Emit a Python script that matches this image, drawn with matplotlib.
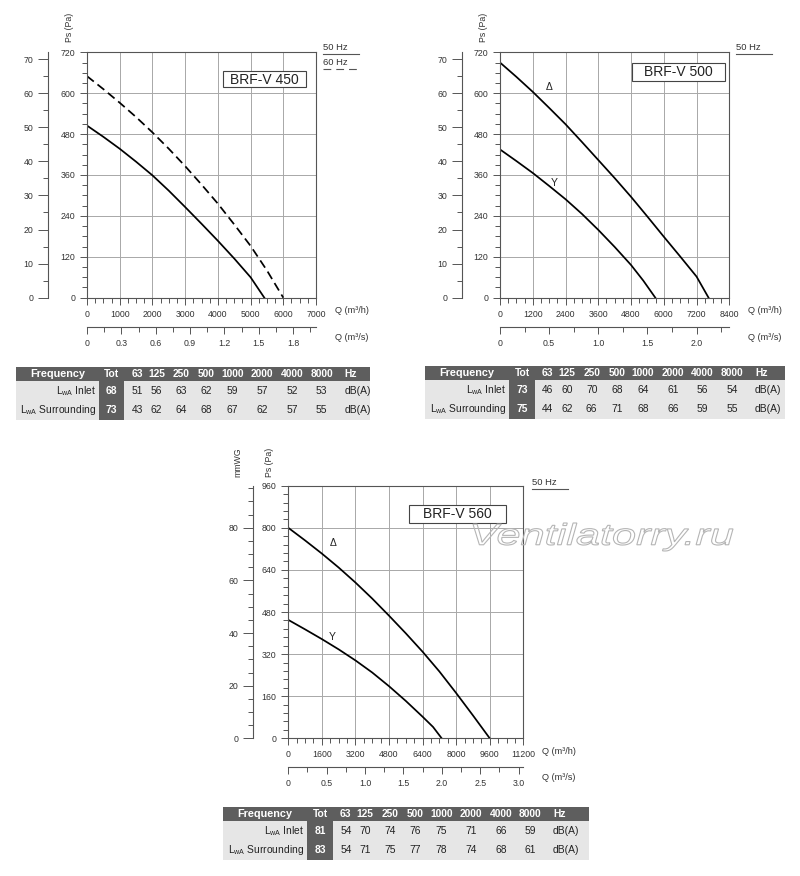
import matplotlib
matplotlib.use('Agg')
import matplotlib.pyplot as plt
from matplotlib.lines import Line2D
from matplotlib.patches import Rectangle, PathPatch
from matplotlib.textpath import TextPath
from matplotlib.font_manager import FontProperties
from matplotlib.transforms import Affine2D
from matplotlib.ticker import MultipleLocator, FuncFormatter

plt.rcParams['font.family'] = ['Liberation Sans', 'DejaVu Sans']
plt.rcParams['mathtext.fontset'] = 'custom'
plt.rcParams['mathtext.rm'] = 'Liberation Sans'

# --- curve data, Q (m3/h) vs Ps (Pa) ---
q450_50 = [0, 500, 1000, 1500, 2000, 2500, 3000, 3500, 4000, 4500, 5000, 5420]
ps450_50 = [505, 472, 437, 399, 359, 314, 266, 217, 167, 115, 60, 0]
q450_60 = [0, 500, 1000, 1500, 2000, 2500, 3000, 3500, 4000, 4500, 5000, 5500, 6000]
ps450_60 = [650, 612, 572, 530, 485, 437, 386, 332, 276, 215, 152, 80, 0]

q500_d = [0, 600, 1200, 1800, 2400, 3000, 3600, 4200, 4800, 5400, 6000, 6600, 7200, 7640]
ps500_d = [690, 648, 604, 557, 509, 457, 404, 351, 296, 238, 179, 121, 62, 0]
q500_y = [0, 600, 1200, 1800, 2400, 3000, 3600, 4200, 4800, 5250, 5690]
ps500_y = [435, 401, 366, 328, 289, 246, 199, 149, 96, 50, 0]

q560_d = [0, 800, 1600, 2400, 3200, 4000, 4800, 5600, 6400, 7200, 8000, 8800, 9600]
ps560_d = [800, 752, 702, 649, 592, 531, 466, 399, 329, 254, 172, 87, 0]
q560_y = [0, 800, 1600, 2400, 3200, 4000, 4800, 5600, 6400, 6900, 7310]
ps560_y = [450, 414, 377, 338, 296, 250, 198, 142, 82, 43, 0]

# --- sound tables ---
bands = ['63', '125', '250', '500', '1000', '2000', '4000', '8000']
tot450 = [68, 73]
inlet450 = [51, 56, 63, 62, 59, 57, 52, 53]
surr450 = [43, 62, 64, 68, 67, 62, 57, 55]
tot500 = [73, 75]
inlet500 = [46, 60, 70, 68, 64, 61, 56, 54]
surr500 = [44, 62, 66, 71, 68, 66, 59, 55]
tot560 = [81, 83]
inlet560 = [54, 70, 74, 76, 75, 71, 66, 59]
surr560 = [54, 71, 75, 77, 78, 74, 68, 61]

W, H = 800, 876
fig = plt.figure(figsize=(8, 8.76), dpi=100)

TICK_FS = 6.3


def px_rect(x0, y0, x1, y1):
    return [x0 / W, 1 - y1 / H, (x1 - x0) / W, (y1 - y0) / H]


def put_text(x, y, s, **kw):
    return fig.text(x / W, 1 - y / H, s, **kw)


def put_line(x0, x1, y, **kw):
    fig.add_artist(Line2D([x0 / W, x1 / W], [1 - y / H, 1 - y / H],
                          transform=fig.transFigure, **kw))


def style_ticks(a):
    a.tick_params(which='both', direction='out', colors='#555555',
                  labelcolor='#333333', labelsize=TICK_FS, width=0.7)
    a.tick_params(which='major', length=5)
    a.tick_params(which='minor', length=3.5)


def draw_chart(box, qmax, qstep, qminor, pmax, pstep, pminor,
               qs_max, qs_step, qs_minor, mm_x, mm_step, curves):
    x0, y0, x1, y1 = box
    ax = fig.add_axes(px_rect(x0, y0, x1, y1))
    for q, ps, ls in curves:
        ax.plot(q, ps, color='black', lw=1.25, ls=ls)
    ax.set_xlim(0, qmax)
    ax.set_ylim(0, pmax)
    ax.xaxis.set_major_locator(MultipleLocator(qstep))
    ax.xaxis.set_minor_locator(MultipleLocator(qminor))
    ax.yaxis.set_major_locator(MultipleLocator(pstep))
    ax.yaxis.set_minor_locator(MultipleLocator(pminor))
    ax.grid(which='major', color='#a8a8a8', lw=0.7)
    style_ticks(ax)
    for s in ax.spines.values():
        s.set_color('#555555')
        s.set_linewidth(0.8)

    # Q (m3/s) scale under the plot
    ys = y1 + 28
    axs = fig.add_axes(px_rect(x0, ys, x1, ys + 1))
    axs.set_xlim(0, qs_max)
    axs.set_yticks([])
    axs.patch.set_alpha(0)
    for side in ['top', 'left', 'right']:
        axs.spines[side].set_visible(False)
    axs.spines['bottom'].set_color('#555555')
    axs.spines['bottom'].set_linewidth(0.8)
    axs.xaxis.set_major_locator(MultipleLocator(qs_step))
    axs.xaxis.set_minor_locator(MultipleLocator(qs_minor))
    axs.xaxis.set_major_formatter(
        FuncFormatter(lambda v, p: '0' if abs(v) < 1e-9 else f'{v:.1f}'))
    style_ticks(axs)

    # mmWG scale on the left
    axm = fig.add_axes(px_rect(mm_x, y0, mm_x + 1, y1))
    axm.set_ylim(0, pmax / 10)
    axm.set_xticks([])
    axm.patch.set_alpha(0)
    for side in ['top', 'bottom', 'right']:
        axm.spines[side].set_visible(False)
    axm.spines['left'].set_color('#555555')
    axm.spines['left'].set_linewidth(0.8)
    axm.yaxis.set_major_locator(MultipleLocator(mm_step))
    axm.yaxis.set_minor_locator(MultipleLocator(5))
    style_ticks(axm)
    axm.tick_params(which='major', length=7)

    put_text(x1 + 19, y1 + 13, 'Q (m³/h)', fontsize=6.6, color='#333333', va='center')
    put_text(x1 + 19, ys + 11.5, 'Q (m³/s)', fontsize=6.6, color='#333333', va='center')
    return ax


def title_box(x0, y0, x1, y1, s):
    fig.add_artist(Rectangle((x0 / W, 1 - y1 / H), (x1 - x0) / W, (y1 - y0) / H,
                             transform=fig.transFigure, fc='white', ec='#444444', lw=0.8))
    put_text((x0 + x1) / 2, (y0 + y1) / 2 + 0.5, s, fontsize=10, ha='center', va='center',
             color='#222222')


def legend_entry(x, y, s, ls):
    put_text(x, y, s, fontsize=6.8, color='#333333', va='center')
    put_line(x, x + 36, y + 7, color='#555555', lw=0.8, ls=ls)


def draw_table(left, right, top, tot_x0, tot_x1, tot, inlet, surr):
    hdr_h, row_h = 14, 19.5
    bottom = top + hdr_h + 2 * row_h
    fig.add_artist(Rectangle((left / W, 1 - bottom / H), (right - left) / W, (2 * row_h) / H,
                             transform=fig.transFigure, fc='#e6e6e6', ec='none'))
    fig.add_artist(Rectangle((left / W, 1 - (top + hdr_h) / H), (right - left) / W, hdr_h / H,
                             transform=fig.transFigure, fc='#5e5e5e', ec='none'))
    fig.add_artist(Rectangle((tot_x0 / W, 1 - bottom / H), (tot_x1 - tot_x0) / W,
                             (2 * row_h) / H,
                             transform=fig.transFigure, fc='#5e5e5e', ec='none'))
    tc = (tot_x0 + tot_x1) / 2
    offs = [25.5, 45, 69.7, 94.8, 120.9, 150.8, 180.6, 210.0]
    hy = top + hdr_h / 2
    fs = 7.4
    put_text((left + tot_x0) / 2, hy, 'Frequency', fontsize=7.8, weight='bold', color='white',
             ha='center', va='center')
    put_text(tc, hy, 'Tot', fontsize=fs, weight='bold', color='white', ha='center', va='center')
    for b, o in zip(bands, offs):
        put_text(tc + o, hy, b, fontsize=fs, weight='bold', color='white',
                 ha='center', va='center')
    put_text(tc + 233, hy, 'Hz', fontsize=fs, weight='bold', color='white', va='center')
    labels = [r'L$_{\mathrm{wA}}$ Inlet', r'L$_{\mathrm{wA}}$ Surrounding']
    for i, (lab, vals) in enumerate(zip(labels, [inlet, surr])):
        ry = top + hdr_h + row_h * (i + 0.5)
        put_text(tot_x0 - 3, ry, lab, fontsize=fs, color='#222222', ha='right', va='center')
        put_text(tc, ry, str(tot[i]), fontsize=fs, weight='bold', color='white',
                 ha='center', va='center')
        for v, o in zip(vals, offs):
            put_text(tc + o, ry, str(v), fontsize=fs, color='#222222', ha='center', va='center')
        put_text(tc + 246, ry, 'dB(A)', fontsize=fs, color='#222222', ha='center', va='center')


# BRF-V 450
draw_chart((87, 52.3, 316, 297.7), 7000, 1000, 250, 720, 120, 30,
           2.0, 0.3, 0.15, 48, 10,
           [(q450_50, ps450_50, '-'), (q450_60, ps450_60, (0, (5, 2.7)))])
title_box(223, 71, 306, 87, 'BRF-V 450')
legend_entry(323, 47.3, '50 Hz', '-')
legend_entry(323, 62.3, '60 Hz', (0, (7, 4.5)))
put_text(70, 27, 'Ps (Pa)', fontsize=6.3, color='#333333', rotation=90, ha='center', va='center')

# BRF-V 500
draw_chart((500, 52.3, 729.3, 297.7), 8400, 1200, 300, 720, 120, 30,
           8400 / 3600, 0.5, 0.25, 461.7, 10,
           [(q500_d, ps500_d, '-'), (q500_y, ps500_y, '-')])
title_box(632.3, 63.3, 725, 80.7, 'BRF-V 500')
legend_entry(735.7, 47, '50 Hz', '-')
put_text(483, 27, 'Ps (Pa)', fontsize=6.3, color='#333333', rotation=90, ha='center', va='center')
put_text(549, 86.7, 'Δ', fontsize=7.5, color='#222222', ha='center', va='center')
put_text(554, 182.7, 'Y', fontsize=7.5, color='#222222', ha='center', va='center')

# BRF-V 560
draw_chart((288.3, 485.7, 523.3, 738.3), 11200, 1600, 400, 960, 160, 32,
           3.06, 0.5, 0.25, 253.3, 20,
           [(q560_d, ps560_d, '-'), (q560_y, ps560_y, '-')])
title_box(409.3, 505, 506, 522.7, 'BRF-V 560')
legend_entry(531.7, 482.3, '50 Hz', '-')
put_text(238, 462, 'mmWG', fontsize=6.3, color='#333333', rotation=90, ha='center', va='center')
put_text(269.5, 462, 'Ps (Pa)', fontsize=6.3, color='#333333', rotation=90, ha='center', va='center')
put_text(333.3, 542.7, 'Δ', fontsize=7.5, color='#222222', ha='center', va='center')
put_text(332.7, 637.3, 'Y', fontsize=7.5, color='#222222', ha='center', va='center')

# tables
draw_table(16, 370, 367, 99, 124, tot450, inlet450, surr450)
draw_table(425, 785, 366, 509, 535, tot500, inlet500, surr500)
draw_table(223, 589, 807, 307.3, 333.3, tot560, inlet560, surr560)

# watermark: outlined italic text
wm = TextPath((0, 0), 'Ventilatorry.ru',
              prop=FontProperties(family='Liberation Sans', style='italic'), size=40)
ext = wm.get_extents()
wm_tr = (Affine2D().translate(-ext.x0, -ext.y0)
         .scale(260 / ext.width, 28 / ext.height)
         .translate(473, H - 551))
fig.add_artist(PathPatch(wm, transform=wm_tr, fill=False, ec='#b5b5b5', lw=0.8))

fig.savefig('out.png', dpi=100)
